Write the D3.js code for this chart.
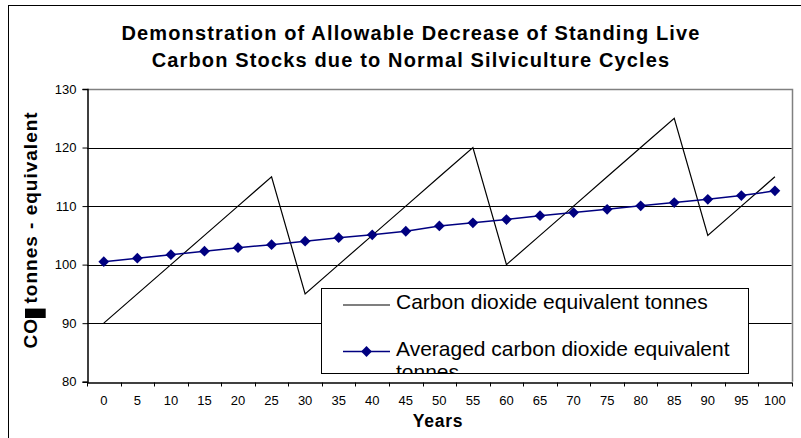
<!DOCTYPE html>
<html lang="en">
<head>
    <meta charset="UTF-8">
    <script src="https://d3js.org/d3.v7.min.js"></script>
    <style>
        body { margin: 0; background: #fff; }
        text { font-family: "Liberation Sans", Arial, sans-serif; }
    </style>
    <title>Allowable Decrease of Standing Live Carbon Stocks</title>
</head>
<body>
    <div id="chart"></div>
    <script>
        // data
        const years = [0, 5, 10, 15, 20, 25, 30, 35, 40, 45, 50, 55, 60, 65, 70, 75, 80, 85, 90, 95, 100];
        const carbonTonnes = [90, 95, 100, 105, 110, 115, 95, 100, 105, 110, 115, 120, 100, 105, 110, 115, 120, 125, 105, 110, 115];
        const averagedTonnes = [100.5, 101.1, 101.7, 102.3, 102.9, 103.4, 104.0, 104.6, 105.1, 105.7, 106.6, 107.15, 107.7, 108.35, 108.9, 109.45, 110.05, 110.6, 111.15, 111.8, 112.6];
        const yTicks = [80, 90, 100, 110, 120, 130];
        const titleLines = ["Demonstration of Allowable Decrease of Standing Live", "Carbon Stocks due to Normal Silviculture Cycles"];
        const seriesNames = ["Carbon dioxide equivalent tonnes", "Averaged carbon dioxide equivalent tonnes"];

        const w = 801, h = 438;
        const pLeft = 87, pRight = 791.7, pTop = 89, pBottom = 381.7;
        const navy = "#000080";

        const svg = d3.select("#chart").append("svg")
            .attr("width", w)
            .attr("height", h);

        // outer chart frame
        svg.append("rect")
            .attr("x", 8.5).attr("y", 5.5)
            .attr("width", w).attr("height", h)
            .attr("fill", "none")
            .attr("stroke", "#000")
            .attr("stroke-width", 1);

        const x = d3.scaleBand().domain(years).range([pLeft, pRight]).padding(0);
        const y = d3.scaleLinear().domain([80, 130]).range([pBottom, pTop]);
        const cx = d => x(d) + x.bandwidth() / 2;

        // gridlines
        svg.append("g")
            .selectAll("line")
            .data(yTicks.filter(v => v > 80 && v < 130))
            .join("line")
            .attr("x1", pLeft).attr("x2", pRight)
            .attr("y1", d => Math.round(y(d)) + 0.5)
            .attr("y2", d => Math.round(y(d)) + 0.5)
            .attr("stroke", "#000");

        // plot border top / right (grey)
        svg.append("path")
            .attr("d", `M${pLeft},${Math.round(pTop) + 0.5}H${Math.round(pRight) + 0.5}V${pBottom}`)
            .attr("fill", "none")
            .attr("stroke", "#808080")
            .attr("stroke-width", 1.5);

        // y axis
        const yAxis = d3.axisLeft(y).tickValues(yTicks).tickSize(5).tickPadding(6);
        const gy = svg.append("g")
            .attr("transform", `translate(${Math.round(pLeft) + 0.5},0)`)
            .call(yAxis);
        gy.select(".domain").attr("stroke", "#000").attr("stroke-width", 1.5);
        gy.selectAll(".tick text")
            .style("font-size", "13px")
            .style("font-family", "'Liberation Sans', Arial, sans-serif")
            .attr("fill", "#000");

        // x axis: labels centred, tick marks on category boundaries
        const xAxis = d3.axisBottom(x).tickSize(0).tickPadding(13);
        const gx = svg.append("g")
            .attr("transform", `translate(0,${Math.round(pBottom) + 0.5})`)
            .call(xAxis);
        gx.select(".domain").attr("stroke", "#000").attr("stroke-width", 1.5);
        gx.selectAll(".tick text")
            .style("font-size", "13px")
            .style("font-family", "'Liberation Sans', Arial, sans-serif")
            .attr("fill", "#000");
        gx.selectAll(".bound")
            .data(d3.range(years.length + 1))
            .join("line")
            .attr("class", "bound")
            .attr("x1", i => Math.round(pLeft + i * x.step()) + 0.5)
            .attr("x2", i => Math.round(pLeft + i * x.step()) + 0.5)
            .attr("y1", 0).attr("y2", 4)
            .attr("stroke", "#000");

        // series
        const line = d3.line().x((d, i) => cx(years[i])).y(d => y(d));

        svg.append("path")
            .datum(carbonTonnes)
            .attr("d", line)
            .attr("fill", "none")
            .attr("stroke", "#000")
            .attr("stroke-width", 1.2);

        svg.append("path")
            .datum(averagedTonnes)
            .attr("d", line)
            .attr("fill", "none")
            .attr("stroke", navy)
            .attr("stroke-width", 1.5);

        const diamond = d3.symbol(d3.symbolSquare, 58);
        svg.append("g")
            .selectAll("path")
            .data(averagedTonnes)
            .join("path")
            .attr("d", diamond)
            .attr("transform", (d, i) => `translate(${cx(years[i])},${y(d)}) rotate(45)`)
            .attr("fill", navy);

        // legend
        const lx = 321.5, ly = 288.5, lw = 427, lh = 85;
        svg.append("clipPath").attr("id", "legclip")
            .append("rect").attr("x", lx).attr("y", ly).attr("width", lw).attr("height", lh);
        const leg = svg.append("g");
        leg.append("rect")
            .attr("x", lx).attr("y", ly).attr("width", lw).attr("height", lh)
            .attr("fill", "#fff").attr("stroke", "#000").attr("stroke-width", 1);
        const legText = leg.append("g").attr("clip-path", "url(#legclip)");

        leg.append("line")
            .attr("x1", 343).attr("x2", 390).attr("y1", 305).attr("y2", 305)
            .attr("stroke", "#000").attr("stroke-width", 1.2);
        legText.append("text")
            .attr("x", 396).attr("y", 308.5)
            .style("font-size", "21px")
            .text(seriesNames[0]);

        leg.append("line")
            .attr("x1", 343).attr("x2", 390).attr("y1", 351.5).attr("y2", 351.5)
            .attr("stroke", navy).attr("stroke-width", 1.5);
        leg.append("path")
            .attr("d", diamond)
            .attr("transform", "translate(366.5,351.5) rotate(45)")
            .attr("fill", navy);
        const t2 = legText.append("text")
            .attr("x", 396).attr("y", 356)
            .style("font-size", "21px");
        const words = seriesNames[1].split(" ");
        t2.append("tspan").attr("x", 396).text(words.slice(0, 4).join(" "));
        t2.append("tspan").attr("x", 396).attr("dy", 23).text(words.slice(4).join(" "));

        // title
        svg.append("g")
            .selectAll("text")
            .data(titleLines)
            .join("text")
            .attr("x", 411)
            .attr("y", (d, i) => 39.5 + i * 27.5)
            .attr("text-anchor", "middle")
            .style("font-size", "20px")
            .style("font-weight", "bold")
            .style("letter-spacing", "1.15px")
            .text(d => d);

        // axis titles
        svg.append("text")
            .attr("x", 438).attr("y", 427)
            .attr("text-anchor", "middle")
            .style("font-size", "17.5px")
            .style("font-weight", "bold")
            .style("letter-spacing", "0.8px")
            .text("Years");

        const yt = svg.append("g").attr("transform", "translate(36.7,348.5) rotate(-90)");
        const ytText = yt.append("text")
            .attr("x", 0).attr("y", 0)
            .style("font-size", "19px")
            .style("font-weight", "bold")
            .style("letter-spacing", "1px");
        ytText.append("tspan").text("CO");
        ytText.append("tspan").style("font-size", "13px").text("2");
        ytText.append("tspan").text(" tonnes - equivalent");
        // the subscript shows up as a solid block in the original
        const box = ytText.node().getExtentOfChar(2);
        yt.append("rect")
            .attr("x", box.x).attr("y", -11.7)
            .attr("width", 9.4).attr("height", 20.7)
            .attr("fill", "#000");
    </script>
</body>
</html>
